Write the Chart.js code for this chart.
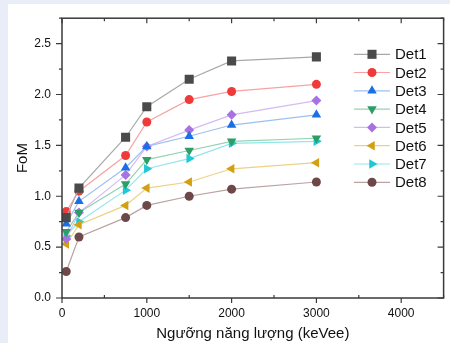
<!DOCTYPE html>
<html>
<head>
<meta charset="utf-8">
<script src="https://cdn.jsdelivr.net/npm/chart.js@4/dist/chart.umd.min.js"></script>
<style>
html,body{margin:0;padding:0;background:#e9edf7;}
canvas{display:block;}
</style>
</head>
<body>
<canvas id="c" width="450" height="343"></canvas>
<script>
// Energy thresholds (keVee)
const thresholds = [50, 200, 750, 1000, 1500, 2000, 3000];
// FoM per detector
const det1 = [0.79, 1.08, 1.58, 1.88, 2.15, 2.33, 2.37];
const det2 = [0.85, 1.05, 1.40, 1.73, 1.95, 2.03, 2.10];
const det3 = [0.73, 0.95, 1.28, 1.49, 1.59, 1.70, 1.80];
const det4 = [0.65, 0.84, 1.12, 1.36, 1.45, 1.54, 1.57];
const det5 = [0.58, 0.84, 1.21, 1.49, 1.65, 1.80, 1.94];
const det6 = [0.53, 0.72, 0.91, 1.08, 1.14, 1.27, 1.33];
const det7 = [0.61, 0.75, 1.06, 1.27, 1.37, 1.52, 1.54];
const det8 = [0.26, 0.60, 0.79, 0.91, 1.00, 1.07, 1.14];
const seriesNames = ["Det1", "Det2", "Det3", "Det4", "Det5", "Det6", "Det7", "Det8"];
// Tick labels
const xTickValues = [0, 1000, 2000, 3000, 4000];
const yTickValues = [0, 0.5, 1.0, 1.5, 2.0, 2.5];
const xMinorValues = [500, 1500, 2500, 3500, 4500];
const yMinorValues = [0.25, 0.75, 1.25, 1.75, 2.25, 2.75];
const xTitle = "Ngưỡng năng lượng (keVee)";
const yTitle = "FoM";

const seriesValues = [det1, det2, det3, det4, det5, det6, det7, det8];
const styles = [
  {marker: "#4a4a4a", line: "#a9a9a9", ps: "rect", rot: 0, r: 6.4},
  {marker: "#f03a3a", line: "#f7a3a3", ps: "circle", rot: 0, r: 4.5},
  {marker: "#1a6ee6", line: "#9dc0f0", ps: "triangle", rot: 0, r: 5.5},
  {marker: "#2e9e68", line: "#94d2b2", ps: "triangle", rot: 180, r: 5.5},
  {marker: "#a872e2", line: "#d6baf2", ps: "rectRot", rot: 0, r: 5},
  {marker: "#d3a012", line: "#edd184", ps: "triangle", rot: 270, r: 5.5},
  {marker: "#1ec8d4", line: "#92e6ec", ps: "triangle", rot: 90, r: 5.5},
  {marker: "#6e4848", line: "#bba2a2", ps: "circle", rot: 0, r: 4.5}
];

const datasets = seriesNames.map((name, i) => ({
  label: name,
  data: thresholds.map((x, j) => ({x: x, y: seriesValues[i][j]})),
  borderColor: styles[i].line,
  backgroundColor: styles[i].marker,
  pointBackgroundColor: styles[i].marker,
  pointBorderColor: styles[i].marker,
  pointBorderWidth: 0,
  pointStyle: styles[i].ps,
  pointRotation: styles[i].rot,
  pointRadius: styles[i].r,
  borderWidth: 1.2,
  tension: 0
}));

const bgPlugin = {
  id: "bg",
  beforeDraw(chart) {
    const ctx = chart.ctx;
    ctx.save();
    ctx.fillStyle = "#e9edf7";
    ctx.fillRect(0, 0, chart.width, chart.height);
    ctx.fillStyle = "#ffffff";
    ctx.fillRect(8, 4, chart.width - 8, chart.height - 4);
    ctx.restore();
  }
};

const framePlugin = {
  id: "frame",
  afterDraw(chart) {
    const ctx = chart.ctx;
    const a = chart.chartArea;
    const xs = chart.scales.x, ys = chart.scales.y;
    ctx.save();
    ctx.strokeStyle = "#3a3a3a";
    ctx.lineWidth = 1.5;
    ctx.strokeRect(a.left, a.top, a.right - a.left, a.bottom - a.top);
    ctx.lineWidth = 1.2;
    ctx.beginPath();
    xTickValues.forEach(v => {
      const px = xs.getPixelForValue(v);
      ctx.moveTo(px, a.bottom); ctx.lineTo(px, a.bottom + 5);
      ctx.moveTo(px, a.top); ctx.lineTo(px, a.top + 5);
    });
    xMinorValues.forEach(v => {
      const px = xs.getPixelForValue(v);
      if (px > a.right + 0.5) return;
      ctx.moveTo(px, a.bottom); ctx.lineTo(px, a.bottom - 3);
      ctx.moveTo(px, a.top); ctx.lineTo(px, a.top + 3);
    });
    yTickValues.forEach(v => {
      const py = ys.getPixelForValue(v);
      ctx.moveTo(a.left, py); ctx.lineTo(a.left - 6, py);
      ctx.moveTo(a.right, py); ctx.lineTo(a.right - 6, py);
    });
    yMinorValues.forEach(v => {
      const py = ys.getPixelForValue(v);
      if (py < a.top - 0.5) return;
      ctx.moveTo(a.left, py); ctx.lineTo(a.left - 3, py);
      ctx.moveTo(a.right, py); ctx.lineTo(a.right - 3, py);
    });
    ctx.stroke();

    // legend
    const rows = [54.3, 72.5, 90.8, 109.1, 127.4, 145.7, 164, 182.3];
    ctx.font = "15px 'Liberation Sans', Arial, sans-serif";
    ctx.textBaseline = "middle";
    ctx.textAlign = "left";
    chart.data.datasets.forEach((ds, i) => {
      const y = rows[i];
      ctx.strokeStyle = ds.borderColor;
      ctx.lineWidth = 1.2;
      ctx.beginPath();
      ctx.moveTo(354, y); ctx.lineTo(390, y);
      ctx.stroke();
      ctx.fillStyle = ds.pointBackgroundColor;
      ctx.strokeStyle = ds.pointBorderColor;
      Chart.helpers.drawPoint(ctx, {pointStyle: ds.pointStyle, rotation: ds.pointRotation, radius: ds.pointRadius, borderWidth: 0}, 372, y);
      ctx.fillStyle = "#111111";
      ctx.fillText(ds.label, 395, y + 1);
    });
    ctx.restore();
  }
};

new Chart(document.getElementById("c"), {
  type: "line",
  data: {datasets: datasets},
  plugins: [bgPlugin, framePlugin],
  options: {
    responsive: false,
    animation: false,
    devicePixelRatio: 1,
    layout: {padding: {top: 12, right: 2, left: 14, bottom: 0}},
    plugins: {legend: {display: false}, tooltip: {enabled: false}},
    scales: {
      x: {
        type: "linear", min: 0, max: 4500,
        grid: {display: false, drawTicks: false},
        border: {display: false},
        afterBuildTicks: s => { s.ticks = xTickValues.map(v => ({value: v})); },
        afterFit: s => { s.height = 45; },
        ticks: {color: "#111", padding: 8, maxRotation: 0, font: {size: 12, family: "'Liberation Sans', Arial, sans-serif"}, callback: v => String(v)},
        title: {display: true, text: xTitle, color: "#111", padding: {top: 2, bottom: 0}, font: {size: 15, family: "'Liberation Sans', Arial, sans-serif"}}
      },
      y: {
        type: "linear", min: 0, max: 2.75,
        grid: {display: false, drawTicks: false},
        border: {display: false},
        afterBuildTicks: s => { s.ticks = yTickValues.map(v => ({value: v})); },
        afterFit: s => { s.width = 48; },
        ticks: {color: "#111", padding: 11, font: {size: 12, family: "'Liberation Sans', Arial, sans-serif"}, callback: v => Number(v).toFixed(1)},
        title: {display: true, text: yTitle, color: "#111", padding: {top: 0, bottom: 4}, font: {size: 15, family: "'Liberation Sans', Arial, sans-serif"}}
      }
    }
  }
});
</script>
</body>
</html>
